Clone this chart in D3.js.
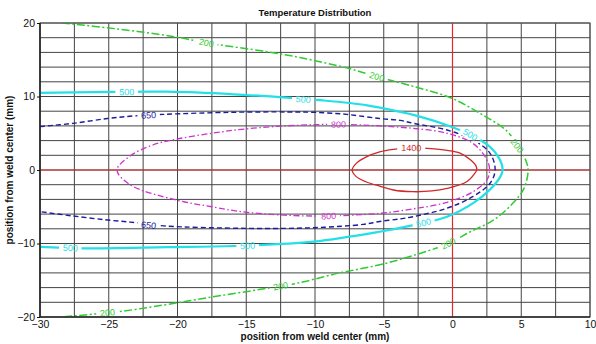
<!DOCTYPE html>
<html>
<head>
<meta charset="utf-8">
<script src="https://cdn.jsdelivr.net/npm/d3@7"></script>
<style>
  body { margin: 0; background: #fff; }
  svg { display: block; }
  text { font-family: "Liberation Sans", Arial, sans-serif; }
</style>
</head>
<body>
<svg id="chart" width="596" height="344"></svg>
<script>
// Axis ticks
const xTicks = [-30, -25, -20, -15, -10, -5, 0, 5, 10];
const yTicks = [-20, -10, 0, 10, 20];

// Isotherm levels (deg C)
const levels = [200, 500, 650, 800, 1400];

// Isotherm outlines, [x mm, y mm]
const contour200 = [
  [-28.4, 20], [-24.4, 19.2], [-20.1, 18.1], [-17.9, 17.3], [-13.5, 16.1], [-11.1, 15.3],
  [-7.5, 13.8], [-5.5, 12.7], [-2.7, 11.3], [-0.1, 9.8], [2.0, 7.7], [3.9, 5.4],
  [4.8, 3.2], [5.35, 1.2], [5.5, 0], [5.2, -2.5], [4.4, -4.5], [3.0, -6.8], [1.3, -8.4],
  [-0.3, -10.0], [-2.8, -11.6], [-5.3, -12.9], [-8.2, -14.0], [-11.3, -15.4],
  [-13.5, -16.1], [-17.9, -17.4], [-20.1, -18.1], [-24.0, -19.2], [-28.5, -20]
];
const contour500 = [
  [-30, 10.5], [-26, 10.6], [-20.8, 10.65], [-15.9, 10.3], [-11.7, 9.8], [-9.6, 9.5],
  [-6.2, 8.8], [-3.8, 7.9], [-2.85, 7.5], [-0.4, 6.1], [1.3, 4.8], [2.7, 3.2],
  [3.45, 1.4], [3.65, 0], [3.45, -1.0], [2.7, -2.7], [1.5, -4.5], [-0.4, -6.35],
  [-2.85, -7.5], [-5.3, -8.4], [-10.1, -9.75], [-15.9, -10.34], [-20.8, -10.5],
  [-26.85, -10.65], [-30, -10.45]
];
const contour650 = [
  [-30, 5.9], [-27.6, 6.35], [-25.1, 7.0], [-23.2, 7.35], [-21.0, 7.57], [-16.2, 7.85],
  [-12.0, 7.9], [-10.1, 7.85], [-7.7, 7.57], [-5.3, 7.0], [-3.8, 6.75], [-2.85, 6.35],
  [-0.4, 5.44], [1.5, 4.08], [2.73, 2.27], [3.1, 0], [2.73, -1.8], [1.5, -3.6],
  [-0.4, -5.2], [-2.85, -6.35], [-3.8, -6.65], [-5.3, -7.0], [-6.5, -7.4],
  [-10.1, -7.85], [-15.0, -7.94], [-21.0, -7.6], [-23.0, -7.17], [-25.1, -6.8],
  [-27.6, -6.26], [-30, -5.67]
];
const contour800 = [
  [-24.4, 0], [-23.45, 1.9], [-21.8, 3.4], [-20.06, 4.2], [-17.5, 5.0], [-15.0, 5.6],
  [-11.1, 6.1], [-8.0, 6.2], [-5.3, 6.0], [-2.9, 5.67], [-0.4, 5.0], [1.5, 3.6],
  [2.5, 1.4], [2.7, 0], [2.5, -1.36], [1.5, -2.95], [-0.4, -4.4], [-2.9, -5.3],
  [-5.3, -5.9], [-10.1, -6.26], [-15.0, -5.75], [-17.5, -5.0], [-20.06, -4.1],
  [-23.45, -2.0]
];
const contour1400 = [
  [-7.3, 0], [-7.0, 0.9], [-6.3, 1.75], [-5.3, 2.45], [-4.3, 2.8], [-3.0, 3.0],
  [-1.8, 2.95], [-0.5, 2.7], [0.55, 2.3], [1.3, 1.4], [1.7, 0.6], [1.76, 0],
  [1.6, -0.5], [1.03, -1.6], [-0.4, -2.5], [-1.5, -2.85], [-2.9, -2.95],
  [-4.3, -2.72], [-5.3, -2.2], [-6.3, -1.6], [-7.0, -0.9]
];

// Inline label anchors, [x mm, y mm]
const labels200 = [[-17.9, 17.3], [-5.5, 12.7], [4.7, 3.3], [-0.3, -10.0], [-12.5, -15.8], [-25.1, -19.4]];
const labels500 = [[-23.7, 10.6], [-10.85, 9.6], [1.3, 4.8], [-2.1, -7.2], [-14.9, -10.3], [-27.8, -10.6]];
const labels650 = [[-22.1, 7.45], [-22.1, -7.5]];
const labels800 = [[-8.3, 6.2], [-9.0, -6.25]];
const labels1400 = [[-3.0, 3.0]];

const contours = [contour200, contour500, contour650, contour800, contour1400];
const labelSets = [labels200, labels500, labels650, labels800, labels1400];
const closedFlags = [false, false, false, true, true];

const styles = {
  200:  { color: "#2ecc2e", width: 1.5, dash: "8,2.5,2,2.5" },
  500:  { color: "#22e0e8", width: 2.2, dash: null },
  650:  { color: "#1c1c9c", width: 1.4, dash: "5,3" },
  800:  { color: "#cc33cc", width: 1.3, dash: "6,2.5,1.5,2.5" },
  1400: { color: "#d02828", width: 1.3, dash: null }
};

const W = 596, H = 344;
const mLeft = 40, mRight = 590, mTop = 23, mBottom = 317;

const x = d3.scaleLinear().domain([-30, 10]).range([mLeft, mRight]);
const y = d3.scaleLinear().domain([-20, 20]).range([mBottom, mTop]);

const svg = d3.select("#chart");
const defs = svg.append("defs");

defs.append("clipPath").attr("id", "plotClip")
  .append("rect").attr("x", mLeft).attr("y", mTop)
  .attr("width", mRight - mLeft).attr("height", mBottom - mTop);

// Grid
const grid = svg.append("g").attr("class", "grid");
d3.range(-30, 10.001, 2.5).forEach(v => {
  grid.append("line")
    .attr("x1", x(v)).attr("x2", x(v)).attr("y1", mTop).attr("y2", mBottom)
    .attr("stroke", "#444").attr("stroke-width", 1);
});
d3.range(-20, 20.001, 2).forEach(v => {
  grid.append("line")
    .attr("x1", mLeft).attr("x2", mRight).attr("y1", y(v)).attr("y2", y(v))
    .attr("stroke", "#444").attr("stroke-width", 1);
});

// Weld centre lines
svg.append("line").attr("x1", mLeft).attr("x2", mRight).attr("y1", y(0)).attr("y2", y(0))
  .attr("stroke", "#e02a2a").attr("stroke-width", 1.2);
svg.append("line").attr("x1", x(0)).attr("x2", x(0)).attr("y1", mTop).attr("y2", mBottom)
  .attr("stroke", "#e02a2a").attr("stroke-width", 1.2);

// Label angle follows the local direction of the outline
function labelAngle(pts, lx, ly) {
  const px = x(lx), py = y(ly);
  let best = Infinity, ang = 0;
  for (let i = 0; i < pts.length - 1; i++) {
    const ax = x(pts[i][0]), ay = y(pts[i][1]);
    const bx = x(pts[i + 1][0]), by = y(pts[i + 1][1]);
    const mx = (ax + bx) / 2, my = (ay + by) / 2;
    const d = (mx - px) ** 2 + (my - py) ** 2;
    if (d < best) { best = d; ang = Math.atan2(by - ay, bx - ax) * 180 / Math.PI; }
  }
  if (ang > 90) ang -= 180;
  if (ang < -90) ang += 180;
  return ang;
}

const labelItems = [];
levels.forEach((lev, i) => {
  labelSets[i].forEach(p => {
    labelItems.push({ lev, x: p[0], y: p[1], angle: labelAngle(contours[i], p[0], p[1]) });
  });
});

// Mask opens gaps in the isotherms where the labels sit
const mask = defs.append("mask").attr("id", "labelGaps").attr("maskUnits", "userSpaceOnUse")
  .attr("x", 0).attr("y", 0).attr("width", W).attr("height", H);
mask.append("rect").attr("x", 0).attr("y", 0).attr("width", W).attr("height", H).attr("fill", "#fff");
labelItems.forEach(d => {
  const w = String(d.lev).length * 5.5 + 6;
  mask.append("rect")
    .attr("x", -w / 2).attr("y", -5).attr("width", w).attr("height", 10)
    .attr("fill", "#000")
    .attr("transform", `translate(${x(d.x)},${y(d.y)}) rotate(${d.angle})`);
});

const lines = svg.append("g").attr("clip-path", "url(#plotClip)")
  .append("g").attr("mask", "url(#labelGaps)");

levels.forEach((lev, i) => {
  const s = styles[lev];
  const gen = d3.line()
    .x(d => x(d[0])).y(d => y(d[1]))
    .curve(closedFlags[i] ? d3.curveCatmullRomClosed : d3.curveCatmullRom);
  lines.append("path")
    .attr("d", gen(contours[i]))
    .attr("fill", "none")
    .attr("stroke", s.color)
    .attr("stroke-width", s.width)
    .attr("stroke-dasharray", s.dash)
    .attr("stroke-linejoin", "round");
});

// Inline labels
svg.append("g").selectAll("text").data(labelItems).join("text")
  .attr("transform", d => `translate(${x(d.x)},${y(d.y)}) rotate(${d.angle})`)
  .attr("text-anchor", "middle").attr("dy", "0.35em")
  .attr("font-size", 9)
  .attr("fill", d => styles[d.lev].color)
  .text(d => d.lev);

// Frame
svg.append("rect").attr("x", mLeft).attr("y", mTop)
  .attr("width", mRight - mLeft).attr("height", mBottom - mTop)
  .attr("fill", "none").attr("stroke", "#555").attr("stroke-width", 1);

// Axes
const xAxis = svg.append("g").attr("transform", `translate(0,${mBottom})`)
  .call(d3.axisBottom(x).tickValues(xTicks).tickSize(0).tickPadding(4).tickFormat(d3.format("d")));
const yAxis = svg.append("g").attr("transform", `translate(${mLeft},0)`)
  .call(d3.axisLeft(y).tickValues(yTicks).tickSize(3).tickPadding(2).tickFormat(d3.format("d")));
[xAxis, yAxis].forEach(a => {
  a.select(".domain").attr("stroke", "#111").attr("stroke-width", 1.2);
  a.selectAll(".tick line").attr("stroke", "#111");
  a.selectAll("text").attr("font-size", 10.5).attr("fill", "#111")
    .attr("font-family", "\"Liberation Sans\", Arial, sans-serif");
});
yAxis.select(".domain").attr("d", `M0,${mTop}V${mBottom}`);
xAxis.select(".domain").attr("d", `M${mLeft},0H${mRight}`);

// Titles
svg.append("text").attr("x", 315).attr("y", 16)
  .attr("text-anchor", "middle").attr("font-size", 9.5).attr("font-weight", "bold")
  .attr("fill", "#111").text("Temperature Distribution");
svg.append("text").attr("x", 315).attr("y", 340)
  .attr("text-anchor", "middle").attr("font-size", 10).attr("font-weight", "bold")
  .attr("fill", "#111").text("position from weld center (mm)");
svg.append("text").attr("transform", `translate(13,170) rotate(-90)`)
  .attr("text-anchor", "middle").attr("font-size", 10).attr("font-weight", "bold")
  .attr("fill", "#111").text("position from weld center (mm)");
</script>
</body>
</html>
